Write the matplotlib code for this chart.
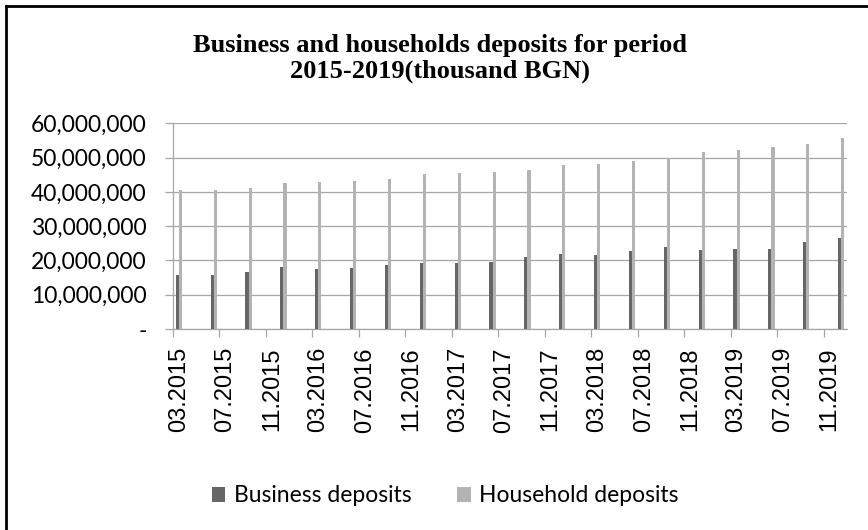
import matplotlib
matplotlib.use('Agg')
import matplotlib.pyplot as plt
from matplotlib import font_manager
from matplotlib.lines import Line2D
from matplotlib.ticker import FuncFormatter

# ---------------- data ----------------
periods = ['03.2015', '06.2015', '09.2015', '12.2015',
           '03.2016', '06.2016', '09.2016', '12.2016',
           '03.2017', '06.2017', '09.2017', '12.2017',
           '03.2018', '06.2018', '09.2018', '12.2018',
           '03.2019', '06.2019', '09.2019', '12.2019']
business = [15760000, 15860000, 16730000, 18190000,
            17510000, 17900000, 18580000, 19360000,
            19160000, 19550000, 21000000, 21980000,
            21600000, 22670000, 23930000, 23150000,
            23350000, 23250000, 25390000, 26460000]
household = [40560000, 40560000, 41050000, 42600000,
             42900000, 43290000, 43770000, 45330000,
             45530000, 45820000, 46400000, 47860000,
             48150000, 49030000, 49800000, 51560000,
             52330000, 53000000, 53900000, 55700000]
tick_labels = ['03.2015', '07.2015', '11.2015', '03.2016', '07.2016',
               '11.2016', '03.2017', '07.2017', '11.2017', '03.2018',
               '07.2018', '11.2018', '03.2019', '07.2019', '11.2019']
y_ticks = [0, 10000000, 20000000, 30000000, 40000000, 50000000, 60000000]
series_names = ['Business deposits', 'Household deposits']
colors = ['#666666', '#b3b3b3']
title = 'Business and households deposits for period\n2015-2019(thousand BGN)'


def month_index(s):
    m, y = s.split('.')
    return (int(y) - 2015) * 12 + int(m) - 3


names = {f.name for f in font_manager.fontManager.ttflist}
xfont = 'Liberation Sans Narrow' if 'Liberation Sans Narrow' in names else 'Liberation Sans'
xsize = 21 if xfont == 'Liberation Sans Narrow' else 17
lfont = 'Lato'

W, H = 868, 530
fig = plt.figure(figsize=(W / 100, H / 100), dpi=100)
ax = fig.add_axes([173 / W, 1 - 329 / H, (847 - 173) / W, (329 - 123.3) / H])

x = [month_index(p) for p in periods]
bw = 0.27
ax.bar([v - bw / 2 for v in x], business, width=bw, color=colors[0],
       label=series_names[0], zorder=3, linewidth=0)
ax.bar([v + bw / 2 for v in x], household, width=bw, color=colors[1],
       label=series_names[1], zorder=3, linewidth=0)

ax.set_xlim(-0.5, 57.5)
ax.set_ylim(0, 60000000)
ax.set_yticks(y_ticks)
ax.yaxis.set_major_formatter(FuncFormatter(lambda v, p: '-' if v == 0 else f'{v:,.0f}'))
ax.yaxis.grid(True, color='#a6a6a6', linewidth=0.9, zorder=0)
ax.set_axisbelow(True)

for s in ['top', 'right']:
    ax.spines[s].set_visible(False)
for s in ['left', 'bottom']:
    ax.spines[s].set_color('#a6a6a6')
    ax.spines[s].set_linewidth(0.9)

# x labels at slot centres, ticks at slot boundaries
label_pos = [month_index(t) for t in tick_labels]
ax.set_xticks(label_pos)
ax.set_xticklabels(tick_labels, rotation=90, fontfamily=xfont, fontsize=xsize)
ax.set_xticks([p - 0.5 for p in label_pos], minor=True)
ax.tick_params(axis='x', which='major', length=0, pad=13)
ax.tick_params(axis='x', which='minor', length=6, color='#a6a6a6', width=0.9)
ax.tick_params(axis='y', length=6, color='#a6a6a6', width=0.9, pad=13)
for lab in ax.get_yticklabels():
    lab.set_fontfamily(lfont)
    lab.set_fontsize(16.5)

fig.text(440 / W, 1 - 58.5 / H, title, ha='center', va='center',
         fontsize=19, fontweight='bold', family='Liberation Serif', linespacing=1.1)

fig.legend(loc='center', bbox_to_anchor=(445 / W, 1 - 496 / H), ncol=2, frameon=False,
           prop={'family': lfont, 'size': 16.5}, handlelength=0.6, handleheight=0.6,
           handletextpad=0.35, columnspacing=2.0)

fig.add_artist(Line2D([5.5 / W, 5.5 / W], [0, 1 - 6.3 / H], transform=fig.transFigure,
                      color='black', linewidth=2.0))
fig.add_artist(Line2D([5.5 / W, 1], [1 - 6.3 / H, 1 - 6.3 / H], transform=fig.transFigure,
                      color='black', linewidth=2.0))

fig.savefig('out.png', dpi=100)
